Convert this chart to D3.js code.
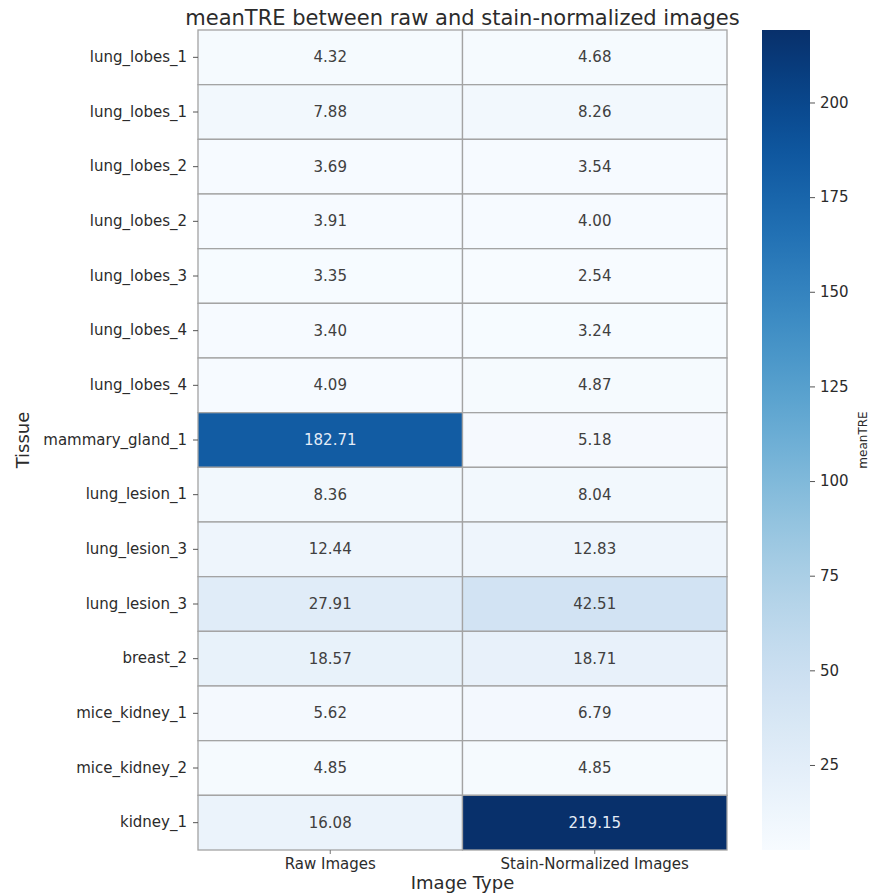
<!DOCTYPE html>
<html>
<head>
<meta charset="utf-8">
<script src="https://cdn.jsdelivr.net/npm/d3@7"></script>
<style>
  body { margin: 0; background: #fff; }
  svg { display: block; font-family: "DejaVu Sans", sans-serif; }
</style>
</head>
<body>
<svg id="chart" width="870" height="894"></svg>
<script>
// Tissue rows (top to bottom) and the two image types
const tissues = [
  "lung_lobes_1", "lung_lobes_1", "lung_lobes_2", "lung_lobes_2", "lung_lobes_3",
  "lung_lobes_4", "lung_lobes_4", "mammary_gland_1", "lung_lesion_1", "lung_lesion_3",
  "lung_lesion_3", "breast_2", "mice_kidney_1", "mice_kidney_2", "kidney_1"
];
const imageTypes = ["Raw Images", "Stain-Normalized Images"];

// meanTRE values per row
const rawValues = [4.32, 7.88, 3.69, 3.91, 3.35, 3.40, 4.09, 182.71, 8.36, 12.44, 27.91, 18.57, 5.62, 4.85, 16.08];
const normValues = [4.68, 8.26, 3.54, 4.00, 2.54, 3.24, 4.87, 5.18, 8.04, 12.83, 42.51, 18.71, 6.79, 4.85, 219.15];

const colorbarTicks = [25, 50, 75, 100, 125, 150, 175, 200];

const svg = d3.select("#chart");
const plotLeft = 198, plotRight = 727, plotTop = 30, plotBottom = 850;
const labelColor = "#2b2b2b";

const cells = [];
tissues.forEach((t, i) => {
  cells.push({ row: i, col: imageTypes[0], value: rawValues[i] });
  cells.push({ row: i, col: imageTypes[1], value: normValues[i] });
});

const x = d3.scaleBand().domain(imageTypes).range([plotLeft, plotRight]);
const y = d3.scaleBand().domain(d3.range(tissues.length)).range([plotTop, plotBottom]);

const allValues = rawValues.concat(normValues);
const vmin = d3.min(allValues), vmax = d3.max(allValues);
const color = d3.scaleSequential(d3.interpolateBlues).domain([vmin, vmax]);

// Cells
svg.append("g").selectAll("rect").data(cells).join("rect")
  .attr("x", d => x(d.col))
  .attr("y", d => y(d.row))
  .attr("width", x.bandwidth())
  .attr("height", y.bandwidth())
  .attr("fill", d => color(d.value))
  .attr("stroke", "#a3a3a3")
  .attr("stroke-width", 1.3);

// Annotations
function textColor(v) {
  const c = d3.rgb(color(v));
  const lum = (0.2126 * c.r + 0.7152 * c.g + 0.0722 * c.b) / 255;
  return lum > 0.408 ? "#404040" : "#e4ecf7";
}
svg.append("g").selectAll("text").data(cells).join("text")
  .attr("x", d => x(d.col) + x.bandwidth() / 2)
  .attr("y", d => y(d.row) + y.bandwidth() / 2)
  .attr("text-anchor", "middle")
  .attr("dominant-baseline", "central")
  .attr("font-size", 15)
  .attr("fill", d => textColor(d.value))
  .text(d => d.value.toFixed(2));

// Y axis
const yAxis = d3.axisLeft(y).tickSize(5).tickPadding(6).tickFormat(i => tissues[i]);
const gy = svg.append("g").attr("transform", `translate(${plotLeft},0)`).call(yAxis);
gy.select(".domain").remove();
gy.selectAll("text").attr("font-size", 15).attr("fill", labelColor).attr("font-family", "DejaVu Sans");
gy.selectAll("line").attr("stroke", "#555");

// X axis
const xAxis = d3.axisBottom(x).tickSize(4).tickPadding(4);
const gx = svg.append("g").attr("transform", `translate(0,${plotBottom})`).call(xAxis);
gx.select(".domain").remove();
gx.selectAll("text").attr("font-size", 15).attr("fill", labelColor).attr("font-family", "DejaVu Sans");
gx.selectAll("line").attr("stroke", "#777");

// Axis titles
svg.append("text")
  .attr("x", (plotLeft + plotRight) / 2).attr("y", 889)
  .attr("text-anchor", "middle").attr("font-size", 18).attr("fill", labelColor)
  .text("Image Type");
svg.append("text")
  .attr("transform", `translate(29,${(plotTop + plotBottom) / 2}) rotate(-90)`)
  .attr("text-anchor", "middle").attr("font-size", 18).attr("fill", labelColor)
  .text("Tissue");

// Title
svg.append("text")
  .attr("x", (plotLeft + plotRight) / 2).attr("y", 25)
  .attr("text-anchor", "middle").attr("font-size", 21).attr("fill", labelColor)
  .text("meanTRE between raw and stain-normalized images");

// Colorbar
const cbX = 762, cbW = 48;
const cbScale = d3.scaleLinear().domain([vmin, vmax]).range([plotBottom, plotTop]);
const defs = svg.append("defs");
const grad = defs.append("linearGradient").attr("id", "cbgrad")
  .attr("x1", 0).attr("y1", 1).attr("x2", 0).attr("y2", 0);
d3.range(0, 1.0001, 0.05).forEach(t => {
  grad.append("stop").attr("offset", t).attr("stop-color", color(vmin + t * (vmax - vmin)));
});
svg.append("rect")
  .attr("x", cbX).attr("y", plotTop).attr("width", cbW).attr("height", plotBottom - plotTop)
  .attr("fill", "url(#cbgrad)");
const cbAxis = d3.axisRight(cbScale).tickValues(colorbarTicks).tickSize(5).tickPadding(5);
const gcb = svg.append("g").attr("transform", `translate(${cbX + cbW},0)`).call(cbAxis);
gcb.select(".domain").remove();
gcb.selectAll("text").attr("font-size", 15).attr("fill", labelColor).attr("font-family", "DejaVu Sans");
gcb.selectAll("line").attr("stroke", "#555");
svg.append("text")
  .attr("transform", `translate(867,${(plotTop + plotBottom) / 2}) rotate(-90)`)
  .attr("text-anchor", "middle").attr("font-size", 12).attr("fill", labelColor)
  .text("meanTRE");
</script>
</body>
</html>
